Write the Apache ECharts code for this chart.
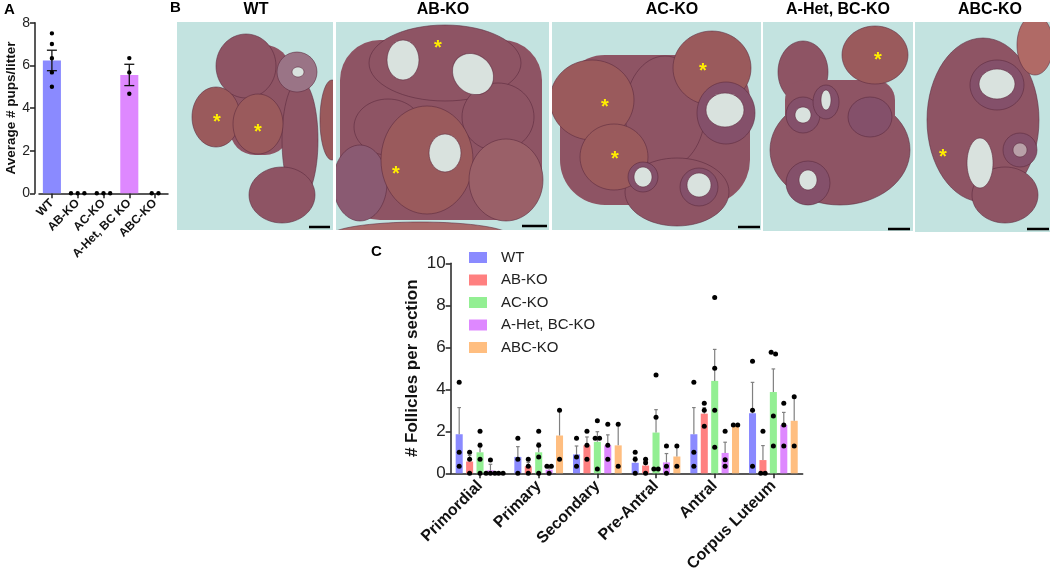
<!DOCTYPE html>
<html>
<head>
<meta charset="utf-8">
<script src="https://cdn.jsdelivr.net/npm/echarts@6/dist/echarts.min.js"></script>
<style>
  html, body { margin: 0; padding: 0; background: #fff; }
  #chart { width: 1052px; height: 577px; }
</style>
</head>
<body>
<div id="chart"></div>
<script>
// ---- panel A: pups per litter ----
const litterGroups = ['WT', 'AB-KO', 'AC-KO', 'A-Het, BC KO', 'ABC-KO']
const litterMean = [6.23, 0, 0, 5.55, 0]
const litterSem = [0.48, 0, 0, 0.5, 0]
const litterDots = [
  [7.5, 7.0, 6.33, 5.67, 5.0],
  [0, 0, 0],
  [0, 0, 0],
  [6.34, 5.67, 4.67],
  [0, 0]
]
const litterTicks = [0, 2, 4, 6, 8]

// ---- panel C: follicles per section ----
const stages = ['Primordial', 'Primary', 'Secondary', 'Pre-Antral', 'Antral', 'Corpus Luteum']
const genotypes = ['WT', 'AB-KO', 'AC-KO', 'A-Het, BC-KO', 'ABC-KO']
const follicleMean = [
  [1.86, 0.78, 0.9, 0.5, 1.86, 2.86],
  [0.56, 0.33, 1.33, 0.37, 2.84, 0.63],
  [1.0, 1.0, 1.5, 1.94, 4.4, 3.87],
  [0.14, 0.17, 1.33, 0.52, 0.97, 2.3],
  [0, 1.8, 1.33, 0.8, 2.3, 2.5]
]
const follicleSem = [
  [1.27, 0.49, 0.4, 0.28, 1.27, 1.47],
  [0.29, 0.19, 0.4, 0.19, 0.29, 0.69],
  [0.43, 0.45, 0.48, 1.09, 1.5, 1.1],
  [0.29, 0.08, 0.5, 0.42, 0.51, 0.6],
  [0, 1.2, 1.0, 0.5, 0, 1.15]
]
const follicleDots = [
  [[4.33, 1.0, 0.33], [1.67, 0.67, 0], [1.67, 0.78, 0.33], [1.0, 0.67, 0], [4.33, 1.0, 0.33], [5.33, 3.0, 0.33]],
  [[1.0, 0.67, 0], [0.67, 0.33, 0], [2.0, 1.33, 0.67], [0.67, 0.5, 0], [3.33, 3.0, 2.24], [2.0, 0, 0]],
  [[2.0, 1.33, 0.67, 0], [2.0, 1.33, 0.78, 0], [2.5, 1.67, 1.67, 0.2], [4.68, 2.67, 0.2, 0.2], [8.37, 5.0, 3.0, 1.24], [5.76, 5.68, 2.73, 1.3]],
  [[0.63, 0, 0, 0], [0.33, 0.33, 0], [2.33, 1.33, 0.67], [1.3, 0.33, 0], [2.0, 0.65, 0.33], [3.33, 2.3, 1.3]],
  [[0, 0], [3.0, 0.67], [2.33, 0.33], [1.3, 0.33], [2.3, 2.3], [3.65, 1.3]]
]
const follicleTicks = [0, 2, 4, 6, 8, 10]

// ---- panel B: section titles ----
const sectionTitles = ['WT', 'AB-KO', 'AC-KO', 'A-Het, BC-KO', 'ABC-KO']

const colors = ['#8a8aff', '#ff8080', '#93ef93', '#de88ff', '#ffbe80']
const font = 'Arial, "Liberation Sans", sans-serif'
const BAR_W = 0.12   // bar width as part of a category band (panel C)
const BAR_GAP = 0.48 // gap as part of a bar width

// spread dots that sit on the same height, like a small beeswarm
function dotOffsets (pys, r, step) {
  const idx = pys.map((p, i) => i).sort((a, b) => pys[a] - pys[b])
  const out = new Array(pys.length).fill(0)
  let cluster = [idx[0]]
  const flush = () => {
    cluster.forEach((k, j) => { out[k] = (j - (cluster.length - 1) / 2) * step })
  }
  for (let i = 1; i < idx.length; i++) {
    if (Math.abs(pys[idx[i]] - pys[cluster[cluster.length - 1]]) < r * 1.2) {
      cluster.push(idx[i])
    } else {
      flush()
      cluster = [idx[i]]
    }
  }
  flush()
  return out
}

const chart = echarts.init(document.getElementById('chart'))

// histology sketches (decoration only)
const BG = '#c3e3e0'
const TISSUE = '#8e5464'
const CL = '#9a5a5c'
const CAV = '#d9e2de'
const FOL = '#84506a'
function ell (cx, cy, rx, ry, fill, rot) {
  return {
    type: 'ellipse', shape: { cx: cx, cy: cy, rx: rx, ry: ry },
    rotation: rot || 0, originX: cx, originY: cy,
    style: { fill: fill, stroke: 'rgba(90,40,60,0.55)', lineWidth: 1 }
  }
}
function blob (x, y, w, h, r, fill) {
  return { type: 'rect', shape: { x: x, y: y, width: w, height: h, r: r }, style: { fill: fill } }
}
function star (x, y) {
  return {
    type: 'text', x: x, y: y,
    style: { text: '*', fill: '#ffee00', font: 'bold 20px ' + font, align: 'center', verticalAlign: 'middle' }
  }
}
function scaleBar (x1, x2, y) {
  return { type: 'line', shape: { x1: x1, y1: y, x2: x2, y2: y }, style: { stroke: '#000', lineWidth: 2.5 } }
}
function frame (x, y, w, h, children) {
  return {
    type: 'group',
    children: [{ type: 'rect', shape: { x: x, y: y, width: w, height: h }, style: { fill: BG } }]
      .concat([{
        type: 'group', clipPath: { type: 'rect', shape: { x: x, y: y, width: w, height: h } }, children: children
      }])
  }
}

const frames = [
  frame(177, 22, 156, 208, [
    blob(230, 45, 60, 110, 25, TISSUE),
    ell(246, 66, 30, 32, TISSUE), ell(300, 140, 18, 60, TISSUE), ell(282, 195, 33, 28, TISSUE),
    ell(332, 120, 12, 40, CL),
    ell(216, 117, 24, 30, CL), ell(258, 124, 25, 30, CL),
    ell(297, 72, 20, 20, '#9a7486'), ell(298, 72, 6, 5, CAV),
    star(217, 122), star(258, 132), scaleBar(309, 330, 227)
  ]),
  frame(336, 22, 213, 208, [
    blob(340, 40, 202, 180, 40, TISSUE),
    ell(445, 63, 76, 38, TISSUE), ell(388, 127, 34, 28, TISSUE), ell(498, 117, 36, 34, TISSUE),
    ell(360, 183, 27, 38, '#8a5a72'), ell(427, 160, 46, 54, CL), ell(506, 180, 37, 41, '#9a6068'),
    ell(403, 60, 16, 20, CAV), ell(473, 74, 22, 19, CAV, -0.8), ell(445, 153, 16, 19, CAV),
    ell(420, 236, 90, 14, '#a86a6a'),
    star(438, 48), star(396, 174), scaleBar(522, 547, 226)
  ]),
  frame(552, 22, 209, 208, [
    blob(560, 55, 190, 150, 45, TISSUE),
    ell(665, 112, 40, 56, TISSUE), ell(677, 192, 52, 34, TISSUE),
    ell(592, 100, 42, 40, CL), ell(614, 157, 34, 33, CL), ell(712, 68, 39, 37, CL),
    ell(726, 113, 29, 31, FOL), ell(725, 110, 19, 17, CAV),
    ell(643, 177, 15, 15, FOL), ell(643, 177, 9, 10, CAV),
    ell(699, 187, 19, 19, FOL), ell(699, 185, 12, 12, CAV),
    star(605, 107), star(615, 159), star(703, 71), scaleBar(738, 760, 227)
  ]),
  frame(763, 22, 150, 209, [
    ell(803, 72, 25, 31, TISSUE), ell(840, 150, 70, 55, TISSUE), blob(785, 80, 110, 60, 20, TISSUE),
    ell(875, 55, 33, 29, CL),
    ell(870, 117, 22, 20, FOL), ell(803, 115, 17, 18, FOL), ell(803, 115, 8, 8, CAV),
    ell(826, 102, 13, 17, FOL), ell(826, 100, 5, 10, CAV),
    ell(808, 183, 22, 22, FOL), ell(808, 180, 9, 10, CAV),
    star(878, 60), scaleBar(888, 910, 229)
  ]),
  frame(915, 22, 135, 210, [
    ell(983, 120, 56, 82, TISSUE), ell(1005, 195, 33, 28, TISSUE),
    ell(1035, 45, 18, 30, '#b06a66'),
    ell(997, 85, 27, 25, FOL), ell(997, 84, 18, 15, CAV),
    ell(980, 163, 13, 25, CAV), ell(1020, 150, 17, 17, FOL), ell(1020, 150, 7, 7, '#b9a0a8'),
    star(943, 157), scaleBar(1027, 1049, 229)
  ])
]

const titleCenters = [256, 443, 672, 838, 990]
const titles = sectionTitles.map((t, i) => ({
  type: 'text', x: titleCenters[i], y: 10,
  style: { text: t, fill: '#000', font: 'bold 16px ' + font, align: 'center', verticalAlign: 'middle' }
}))
const panelLetters = [['A', 4, 10], ['B', 170, 8], ['C', 371, 252]].map(p => ({
  type: 'text', x: p[1], y: p[2],
  style: { text: p[0], fill: '#000', font: 'bold 15px ' + font, verticalAlign: 'middle' }
}))

const axisLine = { show: true, lineStyle: { color: '#222', width: 1.5 } }
const axisTick = { show: true, length: 5, lineStyle: { color: '#222', width: 1.5 } }

const option = {
  animation: false,
  textStyle: { fontFamily: font },
  graphic: frames.concat(titles).concat(panelLetters),
  legend: {
    orient: 'vertical', left: 469, top: 250, padding: 0,
    itemWidth: 18, itemHeight: 11, itemGap: 7.5, icon: 'rect',
    data: genotypes,
    textStyle: { fontSize: 15, color: '#222', padding: [0, 0, 0, 9] }
  },
  grid: [
    { left: 39, top: 22.7, width: 129, height: 170.6 },
    { left: 450.7, top: 263.3, width: 352, height: 210 }
  ],
  xAxis: [
    {
      type: 'category', gridIndex: 0, data: litterGroups,
      axisLine: axisLine, axisTick: Object.assign({ alignWithLabel: true }, axisTick),
      axisLabel: { rotate: 45, fontSize: 12, fontWeight: 'bold', color: '#111', margin: 8, interval: 0 }
    },
    {
      type: 'category', gridIndex: 1, data: stages,
      axisLine: axisLine, axisTick: Object.assign({ alignWithLabel: true }, axisTick),
      axisLabel: { rotate: 45, fontSize: 16, fontWeight: 'bold', color: '#111', margin: 10, interval: 0 }
    }
  ],
  yAxis: [
    {
      type: 'value', gridIndex: 0, min: litterTicks[0], max: litterTicks[litterTicks.length - 1], interval: 2,
      offset: 4, splitLine: { show: false }, axisLine: axisLine, axisTick: axisTick,
      axisLabel: { fontSize: 14, color: '#222', margin: 5 },
      name: 'Average # pups/litter', nameLocation: 'middle', nameGap: 16,
      nameTextStyle: { fontSize: 13.5, fontWeight: 'bold', color: '#111' }
    },
    {
      type: 'value', gridIndex: 1, min: follicleTicks[0], max: follicleTicks[follicleTicks.length - 1], interval: 2,
      splitLine: { show: false }, axisLine: axisLine, axisTick: axisTick,
      axisLabel: { fontSize: 17, color: '#222', margin: 5 },
      name: '# Follicles per section', nameLocation: 'middle', nameGap: 30,
      nameTextStyle: { fontSize: 17, fontWeight: 'bold', color: '#111' }
    }
  ],
  series: [
    {
      type: 'bar', xAxisIndex: 0, yAxisIndex: 0, barWidth: '70%',
      data: litterMean.map((v, i) => ({ value: v, itemStyle: { color: colors[i] } })),
      z: 2
    },
    {
      type: 'custom', xAxisIndex: 0, yAxisIndex: 0, z: 5,
      data: litterGroups.map((g, i) => [i, 0]),
      renderItem: (params, api) => {
        const i = api.value(0)
        const children = []
        if (litterSem[i] > 0) {
          const lo = api.coord([i, litterMean[i] - litterSem[i]])
          const hi = api.coord([i, litterMean[i] + litterSem[i]])
          const s = { stroke: '#111', lineWidth: 1.3 }
          children.push({ type: 'line', shape: { x1: lo[0], y1: lo[1], x2: hi[0], y2: hi[1] }, style: s })
          children.push({ type: 'line', shape: { x1: lo[0] - 5, y1: lo[1], x2: lo[0] + 5, y2: lo[1] }, style: s })
          children.push({ type: 'line', shape: { x1: hi[0] - 5, y1: hi[1], x2: hi[0] + 5, y2: hi[1] }, style: s })
        }
        const pts = litterDots[i].map(v => api.coord([i, v]))
        const offs = dotOffsets(pts.map(p => p[1]), 2.2, 6.7)
        pts.forEach((p, k) => {
          children.push({ type: 'circle', shape: { cx: p[0] + offs[k], cy: p[1], r: 2.2 }, style: { fill: '#000' } })
        })
        return { type: 'group', children: children }
      }
    }
  ].concat(genotypes.map((g, gi) => ({
    name: g, type: 'bar', xAxisIndex: 1, yAxisIndex: 1,
    barWidth: (BAR_W * 100) + '%', barGap: (BAR_GAP * 100) + '%',
    itemStyle: { color: colors[gi] },
    data: follicleMean[gi], z: 2
  }))).concat([
    {
      type: 'custom', xAxisIndex: 1, yAxisIndex: 1, z: 5,
      data: stages.flatMap((s, ci) => genotypes.map((g, gi) => [ci, 0, gi])),
      renderItem: (params, api) => {
        const ci = api.value(0)
        const gi = api.value(2)
        const band = api.size([1, 0])[0]
        const dx = (gi - 2) * band * BAR_W * (1 + BAR_GAP)
        const m = follicleMean[gi][ci]
        const e = follicleSem[gi][ci]
        const children = []
        if (e > 0) {
          const b = api.coord([ci, m])
          const t = api.coord([ci, m + e])
          const s = { stroke: '#808080', lineWidth: 1.2 }
          children.push({ type: 'line', shape: { x1: b[0] + dx, y1: b[1], x2: t[0] + dx, y2: t[1] }, style: s })
          children.push({ type: 'line', shape: { x1: t[0] + dx - 1.8, y1: t[1], x2: t[0] + dx + 1.8, y2: t[1] }, style: s })
        }
        const pts = follicleDots[gi][ci].map(v => api.coord([ci, v]))
        const offs = dotOffsets(pts.map(p => p[1]), 2.5, 4.4)
        pts.forEach((p, k) => {
          children.push({ type: 'circle', shape: { cx: p[0] + dx + offs[k], cy: p[1], r: 2.5 }, style: { fill: '#000' } })
        })
        return { type: 'group', children: children }
      }
    }
  ])
}

chart.setOption(option)
</script>
</body>
</html>
